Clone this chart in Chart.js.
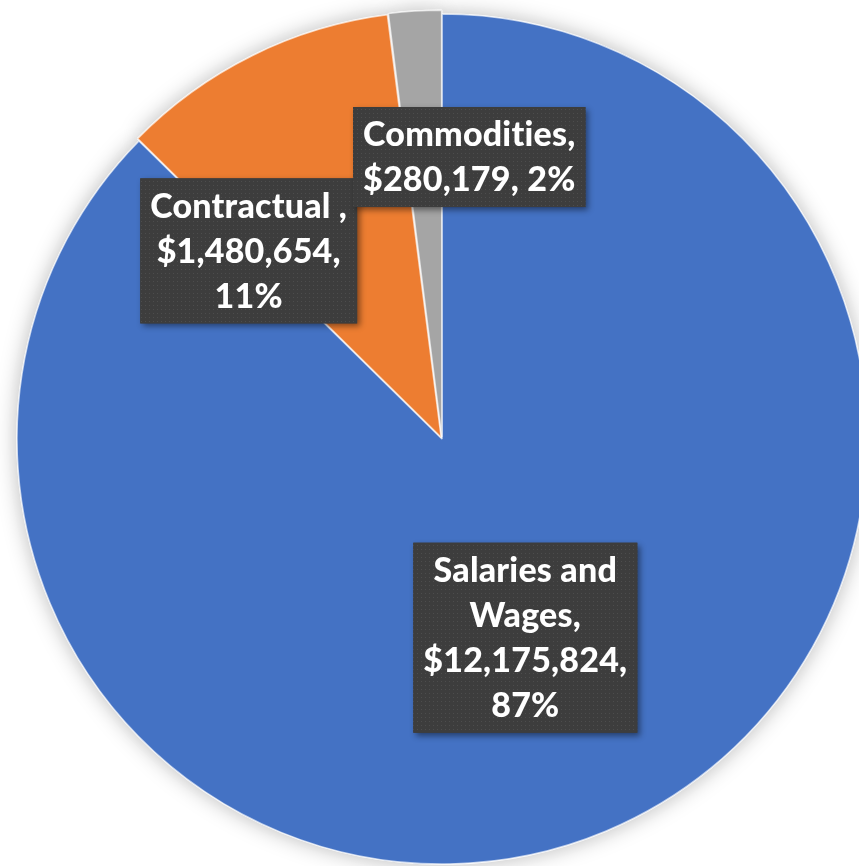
<!DOCTYPE html>
<html><head><meta charset="utf-8">
<script src="https://cdn.jsdelivr.net/npm/chart.js@4"></script>
<style>
html,body{margin:0;padding:0;background:#fff;overflow:hidden;width:859px;height:866px}
#wrap{position:absolute;left:0;top:0;width:884px;height:878px}
canvas{display:block}
</style></head>
<body><div id="wrap"><canvas id="c" width="884" height="878"></canvas></div>
<script>
// ---- data ----
const categories = ['Salaries and Wages', 'Contractual ', 'Commodities'];
const values = [12175824, 1480654, 280179];
// ---- styles ----
const sliceColors = ['#4472C4', '#ED7D31', '#A5A5A5'];
const sliceOffsets = [0, 8, 8];
// label placement: rotation (deg) from slice mid-angle, and distance as fraction of radius
const labelTurn = [0, -20.0, 9.4];
const labelFrac = [0.507, 0.617, 0.648];

const FONT = '900 34px Lato, "Open Sans", sans-serif';
const LINE_H = 45, WRAP_W = 232, PAD_X = 10, PAD_Y = 5;

function fmtMoney(v){ return '$' + v.toLocaleString('en-US'); }
const total = values.reduce((a,b)=>a+b,0);

function makePattern(ctx){
  const p = document.createElement('canvas');
  p.width = 4; p.height = 4;
  const g = p.getContext('2d');
  g.fillStyle = '#3d3d3d'; g.fillRect(0,0,4,4);
  g.fillStyle = '#4d4d4d'; g.fillRect(1,1,1,1);
  return ctx.createPattern(p, 'repeat');
}

function wrap(ctx, text, maxW){
  const words = text.split(' ');
  const lines = [];
  let cur = '';
  for (const w of words){
    const t = cur ? cur + ' ' + w : w;
    if (cur && ctx.measureText(t).width > maxW){ lines.push(cur); cur = w; }
    else cur = t;
  }
  if (cur) lines.push(cur);
  return lines;
}

const shadowPlugin = {
  id: 'pieShadow',
  beforeDatasetsDraw(chart){
    const ctx = chart.ctx;
    const meta = chart.getDatasetMeta(0);
    ctx.save();
    ctx.shadowColor = 'rgba(0,0,0,0.28)';
    ctx.shadowBlur = 22;
    ctx.shadowOffsetX = 0;
    ctx.shadowOffsetY = 0;
    meta.data.forEach(a => a.draw(ctx));
    ctx.restore();
  }
};

const labelPlugin = {
  id: 'boxLabels',
  afterDatasetsDraw(chart){
    const ctx = chart.ctx;
    const meta = chart.getDatasetMeta(0);
    const pattern = makePattern(ctx);
    ctx.save();
    ctx.font = FONT;
    if ('letterSpacing' in ctx) ctx.letterSpacing = '0.2px';
    meta.data.forEach((arc, i) => {
      const {x, y, startAngle, endAngle, outerRadius} = arc.getProps(['x','y','startAngle','endAngle','outerRadius'], true);
      const mid = (startAngle + endAngle) / 2;
      const off = sliceOffsets[i];
      const cx = x + Math.cos(mid) * off;
      const cy = y + Math.sin(mid) * off;
      const ang = mid + labelTurn[i] * Math.PI / 180;
      const lx = cx + Math.cos(ang) * outerRadius * labelFrac[i];
      const ly = cy + Math.sin(ang) * outerRadius * labelFrac[i];
      const pct = Math.round(values[i] / total * 100);
      const text = categories[i] + ', ' + fmtMoney(values[i]) + ', ' + pct + '%';
      const lines = wrap(ctx, text, WRAP_W);
      const tw = Math.max(...lines.map(l => ctx.measureText(l).width));
      const bw = tw + PAD_X * 2;
      const bh = lines.length * LINE_H + PAD_Y * 2;
      const bx = lx - bw / 2, by = ly - bh / 2;
      ctx.save();
      ctx.shadowColor = 'rgba(0,0,0,0.45)';
      ctx.shadowBlur = 6;
      ctx.shadowOffsetX = 3;
      ctx.shadowOffsetY = 3;
      ctx.fillStyle = '#3d3d3d';
      ctx.fillRect(bx, by, bw, bh);
      ctx.restore();
      ctx.fillStyle = pattern;
      ctx.fillRect(bx, by, bw, bh);
      ctx.fillStyle = '#ffffff';
      ctx.textAlign = 'center';
      ctx.textBaseline = 'middle';
      lines.forEach((l, k) => {
        ctx.fillText(l, lx, by + PAD_Y + LINE_H * (k + 0.5) + 1);
      });
    });
    ctx.restore();
  }
};

new Chart(document.getElementById('c'), {
  type: 'pie',
  data: {
    labels: categories,
    datasets: [{
      data: values,
      backgroundColor: sliceColors,
      borderColor: 'rgba(255,255,255,0.65)',
      borderWidth: 1.5,
      offset: sliceOffsets,
      hoverOffset: 0
    }]
  },
  options: {
    responsive: false,
    animation: false,
    events: [],
    radius: 425,
    layout: { padding: 0 },
    plugins: { legend: { display: false }, tooltip: { enabled: false } }
  },
  plugins: [shadowPlugin, labelPlugin]
});
</script>
</body></html>
